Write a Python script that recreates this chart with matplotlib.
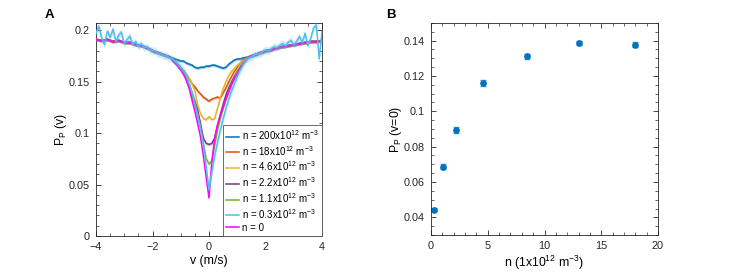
import numpy as np
import matplotlib
matplotlib.use('Agg')
import matplotlib.pyplot as plt
from matplotlib.ticker import MultipleLocator

plt.rcParams['font.family'] = ['Liberation Sans', 'DejaVu Sans']
plt.rcParams['mathtext.fontset'] = 'custom'
plt.rcParams['mathtext.rm'] = 'Liberation Sans'
plt.rcParams['mathtext.it'] = 'Liberation Sans'

# ---- panel A data ----
# velocity grids: coarse wings (0.2 step), fine core (0.1 step)
v_wing_l = np.round(np.arange(-4.0, -1.39, 0.2), 2)
v_core = np.round(np.arange(-1.2, 1.21, 0.1), 2)
v_wing_r = np.round(np.arange(1.4, 4.01, 0.2), 2)
v_fine_l = np.round(np.arange(-4.0, -1.29, 0.1), 2)
v_fine_r = np.round(np.arange(1.3, 4.01, 0.1), 2)

wing_l = [0.191, 0.190, 0.191, 0.189, 0.190, 0.188, 0.188, 0.186, 0.185, 0.183, 0.180, 0.178, 0.176, 0.174]
wing_r = [0.174, 0.176, 0.178, 0.180, 0.181, 0.183, 0.184, 0.185, 0.186, 0.187, 0.188, 0.189, 0.189, 0.190]

core_200 = [0.172, 0.171, 0.170, 0.170, 0.168, 0.167, 0.166, 0.164, 0.163, 0.164, 0.164, 0.165, 0.165,
            0.166, 0.166, 0.165, 0.164, 0.163, 0.164, 0.167, 0.169, 0.171, 0.172, 0.172, 0.173]
core_18 = [0.170, 0.167, 0.164, 0.160, 0.157, 0.153, 0.148, 0.145, 0.141, 0.138, 0.135, 0.133, 0.131,
           0.133, 0.134, 0.135, 0.134, 0.139, 0.144, 0.150, 0.155, 0.160, 0.164, 0.168, 0.171]
core_46 = [0.169, 0.166, 0.163, 0.161, 0.157, 0.153, 0.148, 0.141, 0.127, 0.119, 0.114, 0.113, 0.116,
           0.113, 0.114, 0.124, 0.134, 0.143, 0.150, 0.156, 0.160, 0.163, 0.166, 0.168, 0.170]
core_22 = [0.168, 0.165, 0.162, 0.158, 0.153, 0.147, 0.139, 0.131, 0.122, 0.109, 0.095, 0.090, 0.089,
           0.090, 0.095, 0.107, 0.118, 0.128, 0.137, 0.144, 0.150, 0.155, 0.160, 0.164, 0.168]
core_11 = [0.168, 0.165, 0.162, 0.158, 0.152, 0.145, 0.136, 0.127, 0.117, 0.106, 0.090, 0.075, 0.070,
           0.073, 0.088, 0.103, 0.114, 0.124, 0.133, 0.141, 0.148, 0.154, 0.160, 0.164, 0.168]
core_03 = [0.170, 0.167, 0.164, 0.161, 0.156, 0.148, 0.139, 0.129, 0.117, 0.104, 0.089, 0.067, 0.045,
           0.062, 0.078, 0.091, 0.103, 0.114, 0.124, 0.133, 0.141, 0.148, 0.155, 0.161, 0.166]
core_0 = [0.168, 0.165, 0.161, 0.157, 0.151, 0.143, 0.132, 0.121, 0.109, 0.096, 0.078, 0.057, 0.037,
          0.072, 0.095, 0.108, 0.117, 0.125, 0.133, 0.140, 0.147, 0.153, 0.158, 0.163, 0.167]

# n = 0.3 curve is noisy in the wings
fine_03_l = [0.197, 0.204, 0.192, 0.186, 0.199, 0.193, 0.201, 0.189, 0.195, 0.198, 0.187, 0.191, 0.194, 0.186,
             0.189, 0.184, 0.187, 0.183, 0.184, 0.181, 0.180, 0.180, 0.177, 0.177, 0.175, 0.175, 0.173, 0.172]
fine_03_r = [0.171, 0.173, 0.174, 0.176, 0.177, 0.177, 0.179, 0.181, 0.180, 0.182, 0.184, 0.183, 0.185, 0.187,
             0.185, 0.188, 0.190, 0.186, 0.189, 0.194, 0.188, 0.197, 0.185, 0.192, 0.202, 0.205, 0.172, 0.199]

labels = ['n = 200x10$^{12}$ m$^{-3}$', 'n = 18x10$^{12}$ m$^{-3}$', 'n = 4.6x10$^{12}$ m$^{-3}$',
          'n = 2.2x10$^{12}$ m$^{-3}$', 'n = 1.1x10$^{12}$ m$^{-3}$', 'n = 0.3x10$^{12}$ m$^{-3}$', 'n = 0']
colors = ['#0072BD', '#D95319', '#EDB120', '#7E2F8E', '#77AC30', '#4DBEEE', '#FF00FF']
band = [0.0015, 0.0015, 0.0015, 0.0015, 0.0015, 0.0035, 0.001]

# ---- panel B data ----
n_dens = [0.3, 1.1, 2.2, 4.6, 8.5, 13, 18]
p_zero = [0.0442, 0.0687, 0.0895, 0.1159, 0.1312, 0.1385, 0.1378]
p_err = [0.0008, 0.0013, 0.0017, 0.0018, 0.0015, 0.0012, 0.0015]

fig = plt.figure(figsize=(7.33, 2.78), dpi=100)
W, H = 733., 278.
axA = fig.add_axes([96/W, 1-236/H, 226/W, 213/H])
axB = fig.add_axes([431/W, 1-235/H, 227/W, 212/H])

v_std = np.concatenate([v_wing_l, v_core, v_wing_r])
v_lb = np.concatenate([v_fine_l, v_core, v_fine_r])
cores = [core_200, core_18, core_46, core_22, core_11, None, core_0]
zs = [3, 3, 3, 3, 3, 5, 4]
for i in range(7):
    if cores[i] is None:
        vv = v_lb
        yy = np.array(fine_03_l + core_03 + fine_03_r)
    else:
        vv = v_std
        yy = np.array(wing_l + cores[i] + wing_r)
    axA.fill_between(vv, yy-band[i], yy+band[i], color=colors[i], alpha=0.3, lw=0, zorder=zs[i])
    axA.plot(vv, yy, color=colors[i], lw=1.1, label=labels[i], zorder=zs[i])

axA.set_xlim(-4, 4)
axA.set_ylim(0, 0.207)
axA.set_xticks([-4, -2, 0, 2, 4])
axA.set_yticks([0, 0.05, 0.1, 0.15, 0.2])
axA.set_yticklabels(['0', '0.05', '0.1', '0.15', '0.2'])
axA.xaxis.set_minor_locator(MultipleLocator(0.5))
axA.yaxis.set_minor_locator(MultipleLocator(0.01))
axA.set_xlabel('v (m/s)', fontsize=8.8, labelpad=2)
axA.set_ylabel('P$_P$ (v)', fontsize=8.8, labelpad=-0.5)
leg = axA.legend(loc='lower right', borderaxespad=0, fontsize=7.0, handlelength=1.3,
                 handletextpad=0.3, labelspacing=0.2, fancybox=False, framealpha=1,
                 edgecolor='#555555', borderpad=0.35)
leg.get_frame().set_linewidth(0.6)
leg.set_zorder(10)

axB.errorbar(n_dens, p_zero, yerr=p_err, fmt='o', color='#0072BD', ms=3.8, ecolor='#4A9FD9',
             elinewidth=1, capsize=2.5, capthick=1)
axB.set_xlim(0, 20)
axB.set_ylim(0.03, 0.15)
axB.set_xticks([0, 5, 10, 15, 20])
axB.set_yticks([0.04, 0.06, 0.08, 0.1, 0.12, 0.14])
axB.set_yticklabels(['0.04', '0.06', '0.08', '0.1', '0.12', '0.14'])
axB.xaxis.set_minor_locator(MultipleLocator(1))
axB.yaxis.set_minor_locator(MultipleLocator(0.005))
axB.set_xlabel('n (1x10$^{12}$ m$^{-3}$)', fontsize=8.8, labelpad=2)
axB.set_ylabel('P$_P$ (v=0)', fontsize=8.8, labelpad=-0.5)

for ax in (axA, axB):
    ax.tick_params(which='both', direction='in', top=True, right=True, colors='#262626',
                   labelsize=7.8, pad=4.5)
    ax.tick_params(which='major', length=3.5, width=0.6)
    ax.tick_params(which='minor', length=2, width=0.5)
    for s in ax.spines.values():
        s.set_color('#262626')
        s.set_linewidth(0.6)

fig.text(45/W, 1-15/H, 'A', fontsize=9.5, fontweight='bold', va='center')
fig.text(386/W, 1-15/H, 'B', fontsize=9.5, fontweight='bold', va='center')

fig.savefig('out.png', dpi=100)
